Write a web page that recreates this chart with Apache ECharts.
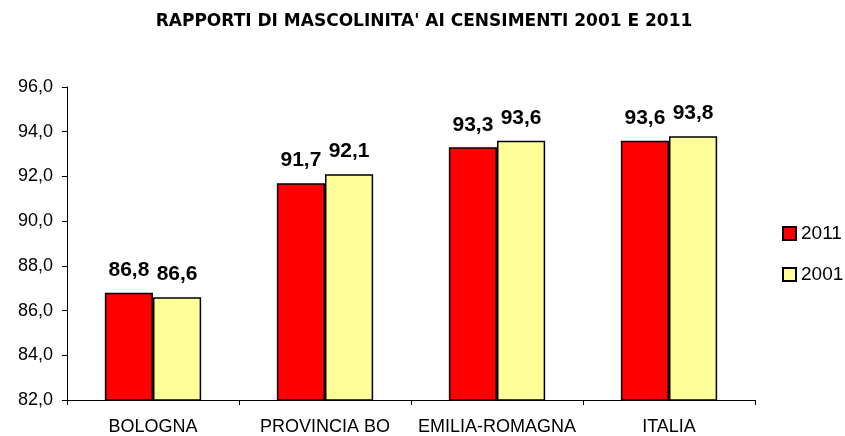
<!DOCTYPE html>
<html><head><meta charset="utf-8">
<script src="https://cdn.jsdelivr.net/npm/echarts@6/dist/echarts.min.js"></script>
<style>html,body{margin:0;padding:0;background:#fff}#c{width:845px;height:436px}</style>
</head><body><div id="c"></div>
<script>
const categories = ['BOLOGNA', 'PROVINCIA BO', 'EMILIA-ROMAGNA', 'ITALIA'];
const values2011 = [86.8, 91.7, 93.3, 93.6];
const values2001 = [86.6, 92.1, 93.6, 93.8];
const seriesNames = ['2011', '2001'];
const yMin = 82, yMax = 96, yStep = 2;

const fmt = v => v.toFixed(1).replace('.', ',');
const chart = echarts.init(document.getElementById('c'));
const lbl = {show: true, position: 'top', distance: 12, fontFamily: 'Liberation Sans', fontWeight: 'bold', fontSize: 21, color: '#000', formatter: p => fmt(p.value)};
chart.setOption({
  animation: false,
  title: {text: "RAPPORTI DI MASCOLINITA' AI CENSIMENTI 2001 E 2011", left: 419, textAlign: 'center', top: 8,
    textStyle: {fontFamily: 'DejaVu Sans', fontWeight: 'bold', fontSize: 17, color: '#000'}},
  legend: {orient: 'vertical', left: 777, top: 219, itemWidth: 13, itemHeight: 13, itemGap: 22,
    textStyle: {fontFamily: 'Liberation Sans', fontSize: 19, color: '#000', padding: [0,0,0,0]},
    data: seriesNames.map(n => ({name: n, icon: 'rect'}))},
  grid: {left: 67, right: 90, top: 87, bottom: 36},
  xAxis: {type: 'category', data: categories,
    axisLine: {lineStyle: {color: '#000'}},
    axisTick: {show: true, lineStyle: {color: '#000'}, length: 5},
    axisLabel: {interval: 0, fontFamily: 'Liberation Sans', fontSize: 18, color: '#000', margin: 18}},
  yAxis: {type: 'value', min: yMin, max: yMax, interval: yStep,
    axisLine: {show: true, lineStyle: {color: '#000'}},
    axisTick: {show: true, lineStyle: {color: '#000'}, length: 5},
    splitLine: {show: false},
    axisLabel: {fontFamily: 'Liberation Sans', fontSize: 18, color: '#000', margin: 14, formatter: v => fmt(v)}},
  series: [
    {name: seriesNames[0], type: 'bar', data: values2011, barGap: '0%', barCategoryGap: '44%',
     itemStyle: {color: '#FF0000', borderColor: '#000', borderWidth: 1.5}, label: lbl},
    {name: seriesNames[1], type: 'bar', data: values2001,
     itemStyle: {color: '#FFFF99', borderColor: '#000', borderWidth: 1.5}, label: lbl}
  ]
});
</script></body></html>
